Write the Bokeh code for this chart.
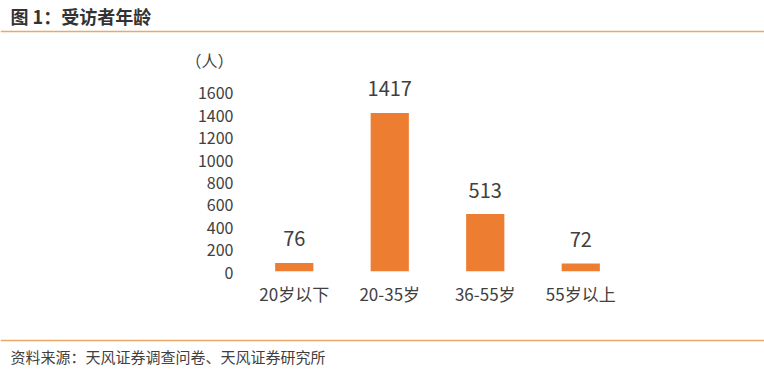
from bokeh.plotting import figure
from bokeh.layouts import column
from bokeh.models import ColumnDataSource, LabelSet, FixedTicker, Range1d
from bokeh.core.properties import value
from bokeh.embed import file_html
from bokeh.resources import INLINE

categories = ["20岁以下", "20-35岁", "36-55岁", "55岁以上"]
counts = [76, 1417, 513, 72]
y_ticks = [0, 200, 400, 600, 800, 1000, 1200, 1400, 1600]
unit_label = "（人）"
title_text = "图 1：受访者年龄"
source_text = "资料来源：天风证券调查问卷、天风证券研究所"

FONT = "Noto Sans CJK SC"
TXT = "#404040"
BAR = "#ED7D31"
LINE = "#EBA868"
W = 764


def deco_fig(h):
    f = figure(width=W, height=h, output_backend="svg", toolbar_location=None,
               x_range=Range1d(0, W), y_range=Range1d(h, 0),
               min_border=0, outline_line_color=None, frame_align=False)
    f.axis.visible = False
    f.grid.visible = False
    return f


# header
head = deco_fig(40)
head.text(x=[10], y=[15], text=[title_text], text_font=value(FONT), text_font_size="18px",
          text_font_style="bold", text_color="#333333", text_baseline="middle", text_align="left")
head.segment(x0=[0], y0=[31], x1=[W], y1=[31], line_color=LINE, line_width=1.5)

# main chart
y_unit_pos = 1886
src = ColumnDataSource(data=dict(cat=categories, val=counts, lab=[str(v) for v in counts]))
p = figure(width=W, height=292, x_range=categories, y_range=Range1d(0, 1975),
           output_backend="svg", toolbar_location=None, frame_align=False,
           min_border_left=246, min_border_right=W - 628, min_border_top=10,
           min_border_bottom=61, outline_line_color=None)
p.vbar(x="cat", top="val", width=0.4, source=src, fill_color=BAR, line_color=None)
p.add_layout(LabelSet(x="cat", y="val", text="lab", source=src, y_offset=24,
                      text_align="center", text_baseline="middle",
                      text_font=value(FONT), text_font_size="20px", text_color=TXT))
p.grid.visible = False
for ax in (p.xaxis, p.yaxis):
    ax.axis_line_color = None
    ax.major_tick_line_color = None
    ax.minor_tick_line_color = None
    ax.major_tick_out = 0
    ax.major_tick_in = 0
    ax.minor_tick_out = 0
    ax.major_label_text_font = FONT
    ax.major_label_text_color = TXT
p.xaxis.major_label_text_font_size = "17px"
p.xaxis.major_label_standoff = 9
p.yaxis.ticker = FixedTicker(ticks=y_ticks + [y_unit_pos])
p.yaxis.major_label_overrides = {y_unit_pos: unit_label}
p.yaxis.major_label_text_font_size = "16px"
p.yaxis.major_label_standoff = 13

# footer
foot = deco_fig(40)
foot.segment(x0=[0], y0=[8], x1=[W], y1=[8], line_color=LINE, line_width=1.5)
foot.text(x=[10], y=[24], text=[source_text], text_font=value(FONT), text_font_size="15px",
          text_color="#404040", text_baseline="middle", text_align="left")

layout = column(head, p, foot, spacing=0)
open("out.html", "w").write(file_html(layout, INLINE))
